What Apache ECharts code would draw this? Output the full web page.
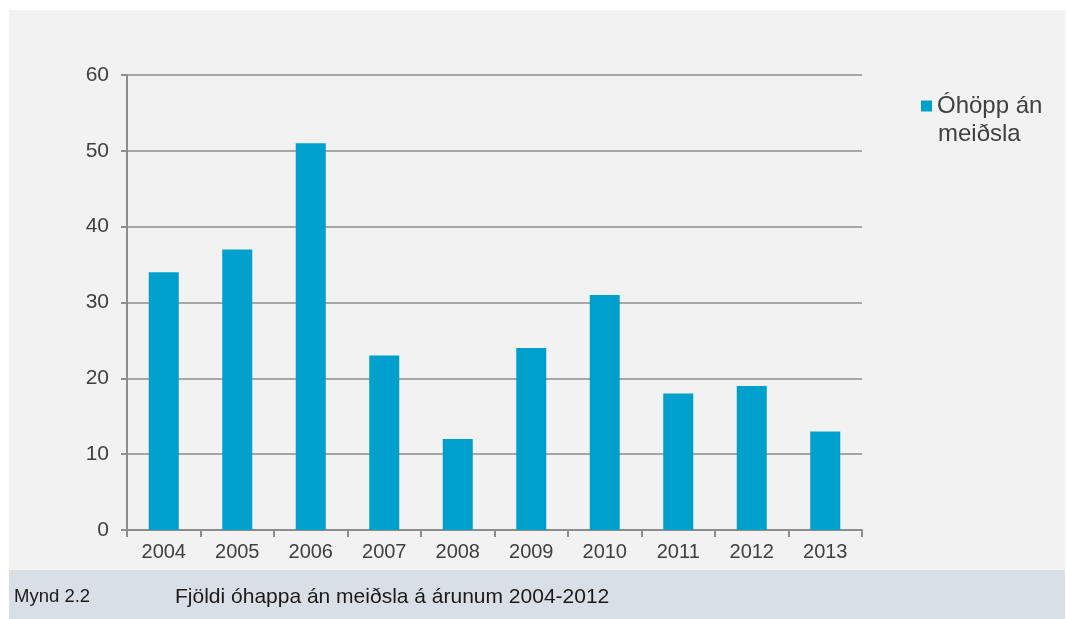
<!DOCTYPE html>
<html>
<head>
<meta charset="utf-8">
<script src="https://cdn.jsdelivr.net/npm/echarts@6/dist/echarts.min.js"></script>
<style>
html,body{margin:0;padding:0;background:#ffffff;}
#c{width:1066px;height:619px;}
</style>
</head>
<body>
<div id="c"></div>
<script>
var categories = ['2004','2005','2006','2007','2008','2009','2010','2011','2012','2013'];
var seriesName = 'Óhöpp án meiðsla';
var values = [34, 37, 51, 23, 12, 24, 31, 18, 19, 13];
var yTicks = [0, 10, 20, 30, 40, 50, 60];
var captionLabel = 'Mynd 2.2';
var captionText = 'Fjöldi óhappa án meiðsla á árunum 2004-2012';

var chart = echarts.init(document.getElementById('c'), null, {renderer:'canvas'});
var font = 'Arial, "Liberation Sans", sans-serif';
var nameParts = seriesName.split('án ');
chart.setOption({
  animation: false,
  backgroundColor: '#ffffff',
  textStyle: {fontFamily: font},
  graphic: [
    {type:'rect', z:-10, shape:{x:9, y:10, width:1056, height:560}, style:{fill:'#f2f2f2'}},
    {type:'rect', z:-10, shape:{x:9, y:570, width:1056, height:49}, style:{fill:'#d9dfe7'}},
    {type:'text', left:14, top:587, style:{text:captionLabel, font:'18.5px ' + font, fill:'#1a1a1a'}},
    {type:'text', left:175, top:587, style:{text:captionText, font:'21px ' + font, fill:'#1a1a1a'}},
    {type:'text', left:938, top:122, style:{text:nameParts[1], font:'24px ' + font, fill:'#404040'}}
  ],
  grid: {left:127, right:204, top:75, bottom:89, containLabel:false},
  legend: {
    left: 921, top: 93, orient:'vertical', padding:0,
    itemWidth: 11, itemHeight: 11, itemGap: 8,
    icon: 'rect',
    formatter: function(n){ return nameParts[0] + 'án'; },
    textStyle: {fontSize: 24, color:'#404040', lineHeight: 26, fontFamily: font},
    data: [seriesName]
  },
  xAxis: {
    type:'category', data: categories,
    axisLine:{lineStyle:{color:'#8c8c8c', width:2}},
    axisTick:{show:true, alignWithLabel:false, length:7, lineStyle:{color:'#8c8c8c', width:2}},
    axisLabel:{fontSize:20, color:'#404040', margin:12, fontFamily: font},
    splitLine:{show:false}
  },
  yAxis: {
    type:'value', min: yTicks[0], max: yTicks[yTicks.length-1], interval: 10,
    axisLine:{show:true, lineStyle:{color:'#8c8c8c', width:2}},
    axisTick:{show:true, length:6, lineStyle:{color:'#8c8c8c', width:2}},
    axisLabel:{fontSize:21, color:'#404040', margin:18, fontFamily: font},
    splitLine:{show:true, lineStyle:{color:'#8c8c8c', width:1.5}}
  },
  series: [{
    name: seriesName, type:'bar', data: values,
    barWidth: 30,
    itemStyle:{color:'#00a0cc'}
  }]
});
</script>
</body>
</html>
